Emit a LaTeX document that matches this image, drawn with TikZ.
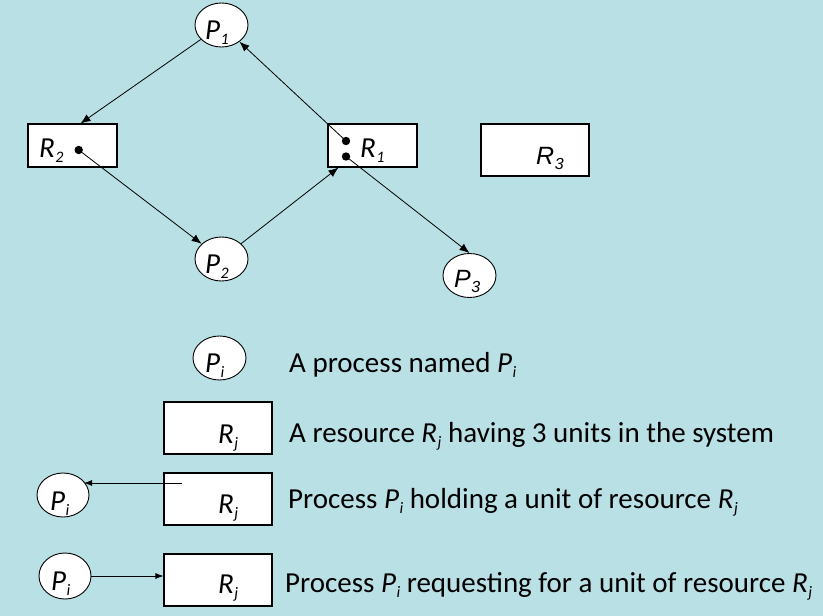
\documentclass[tikz,border=0pt]{standalone}
\usepackage{fontspec}
\setmainfont{Carlito}
\newfontfamily\arialfont{Liberation Sans}
\usetikzlibrary{shapes.geometric, arrows.meta}

\definecolor{bgblue}{RGB}{185,224,228}
\newcommand{\lbl}[2]{\textit{#1}\kern0.5pt\raisebox{-5pt}{\fontsize{16}{16}\selectfont\textit{#2}}}

\tikzset{
    proc/.style={ellipse, draw, fill=white, line width=0.9pt, minimum width=53pt, minimum height=44pt, inner sep=0pt},
    res/.style={rectangle, draw, fill=white, line width=1.1pt, minimum width=89pt, minimum height=43pt},
    bigres/.style={res, minimum width=108pt, minimum height=52pt},
    edge/.style={-{Latex[length=10pt,width=8pt]}, line width=0.8pt},
    lab/.style={anchor=base west, inner sep=0pt, font=\fontsize{29}{32}\selectfont},
    arlab/.style={lab, font=\fontsize{25}{28}\selectfont\arialfont}
}

\begin{document}
\begin{tikzpicture}[x=1pt, y=-1pt]
    \fill[bgblue] (0,0) rectangle (823,616);
    \useasboundingbox (0,0) rectangle (823,616);

    \node[proc] (P1) at (221.5,25) {};
    \node[proc] (P2) at (221.5,259) {};
    \node[proc] (P3) at (469.5,275.5) {};
    \node[res] (R2) at (72.5,145.5) {};
    \node[res] (R1) at (372.5,145.5) {};
    \node[res, minimum height=52pt, minimum width=108pt] (R3) at (535,150) {};

    \node[lab] (l1) at (205,39) {\lbl{P}{1}};
    \node[lab] (l2) at (205,273) {\lbl{P}{2}};
    \node[lab] (lr2) at (39,157) {\lbl{R}{2}};
    \node[lab] (lr1) at (360,157) {\lbl{R}{1}};
    \node[arlab] (lr3) at (536,164) {\lbl{R}{3}};
    \node[arlab] (l3) at (454,287) {\lbl{P}{3}};

    \fill (78.7,150) circle (4.2pt) coordinate (r2dot);
    \fill (346,141) circle (4.2pt) coordinate (r1a);
    \fill (346,156.5) circle (4.2pt) coordinate (r1b);

    \draw[edge] (P1) -- ([xshift=8pt]R2.north);
    \draw[edge] (r2dot) -- (P2);
    \draw[edge] (P2) -- ([xshift=11pt]R1.south west);
    \draw[edge] (r1a) -- (P1);
    \draw[edge] (r1b) -- (P3.north);

    % legend
    \node[proc] (Pi1) at (219.5,358) {};
    \node[bigres] (Rj2) at (218,428) {};
    \node[bigres] (Rj3) at (218,499) {};
    \node[bigres] (Rj4) at (218,580) {};
    \node[proc, minimum width=52pt] (Pi3) at (63,495) {};
    \node[proc, minimum width=52pt, minimum height=46pt] (Pi4) at (65,576) {};

    \node[lab] (li1) at (205,372) {\lbl{P}{i}};
    \node[lab] (li3) at (50,510) {\lbl{P}{i}};
    \node[lab] (li4) at (51,590) {\lbl{P}{i}};
    \node[lab] (lj2) at (218,443) {\lbl{R}{j}};
    \node[lab] (lj3) at (218,513) {\lbl{R}{j}};
    \node[lab] (lj4) at (218,593) {\lbl{R}{j}};

    \coordinate (hold) at (182,483);
    \draw[edge, -{Latex[length=8pt,width=6pt]}] (hold) -- (hold -| Pi3.33);
    \draw[edge, -{Latex[length=8pt,width=6pt]}] (Pi4.east) -- (Pi4.east -| Rj4.west);

    \node[lab] (t1) at (289,372) {A process named \lbl{P}{i}};
    \node[lab] (t2) at (289,442) {A resource \lbl{R}{j} having 3 units in the system};
    \node[lab] (t3) at (288,508) {Process \lbl{P}{i} holding a unit of resource \lbl{R}{j}};
    \node[lab] (t4) at (285,592) {Process \lbl{P}{i} requesting for a unit of resource \lbl{R}{j}};
\end{tikzpicture}
\end{document}
